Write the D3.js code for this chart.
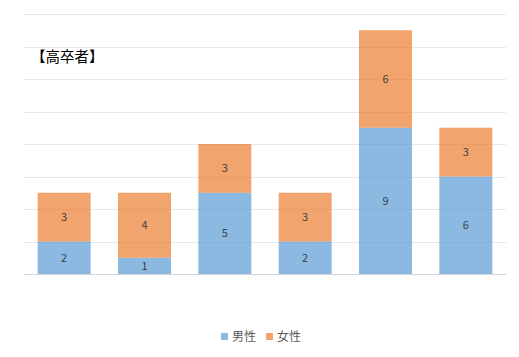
<!DOCTYPE html>
<html><head><meta charset="utf-8">
<script src="https://cdn.jsdelivr.net/npm/d3@7"></script>
<style>body{margin:0;background:#fff}svg{display:block}</style>
</head><body>
<script>
const categories = ["A","B","C","D","E","F"];
const male = [2,1,5,2,9,6];
const female = [3,4,3,3,6,3];
const seriesNames = ["男性","女性"];
const yTicks = [0,2,4,6,8,10,12,14,16];

const W=519,H=357;
const svg=d3.select("body").append("svg").attr("width",W).attr("height",H);
const font="'Noto Sans CJK JP','Noto Sans',sans-serif";
const x=d3.scaleBand().domain(categories).range([24,506]).paddingInner(0.34).paddingOuter(0.17);
const y=d3.scaleLinear().domain([0,16]).range([274,14]);

svg.append("g").selectAll("line").data(yTicks).join("line")
 .attr("x1",24).attr("x2",506).attr("y1",d=>Math.round(y(d))+0.5).attr("y2",d=>Math.round(y(d))+0.5)
 .attr("stroke",d=>d===0?"#d4d4d4":"#e8e8e8").attr("stroke-width",1);

const data=categories.map((c,i)=>({c,m:male[i],f:female[i]}));
const stack=d3.stack().keys(["m","f"])(data);
const colors=["#5B9BD5","#ED7D31"];
stack.forEach((s,si)=>{
  const g=svg.append("g");
  g.selectAll("rect").data(s).join("rect")
   .attr("x",d=>x(d.data.c)).attr("width",x.bandwidth())
   .attr("y",d=>y(d[1])).attr("height",d=>y(d[0])-y(d[1]))
   .attr("fill",colors[si]).attr("fill-opacity",0.7);
  g.selectAll("text").data(s).join("text")
   .attr("x",d=>x(d.data.c)+x.bandwidth()/2).attr("y",d=>(y(d[0])+y(d[1]))/2)
   .attr("dy","0.35em").attr("text-anchor","middle")
   .attr("font-family",font).attr("font-size",11).attr("fill","#404040")
   .text(d=>d[1]-d[0]);
});

svg.append("text").attr("x",31).attr("y",61.5).attr("font-family",font).attr("font-size",14.5)
 .attr("fill","#000").text("【高卒者】");

const leg=svg.append("g");
const lx=[221,266];
seriesNames.forEach((n,i)=>{
  leg.append("rect").attr("x",lx[i]).attr("y",333).attr("width",7).attr("height",7).attr("fill",colors[i]).attr("fill-opacity",0.7);
  leg.append("text").attr("x",lx[i]+11).attr("y",336.5).attr("dy","0.35em").attr("font-family",font).attr("font-size",12).attr("fill","#595959").text(n);
});
</script>
</body></html>
